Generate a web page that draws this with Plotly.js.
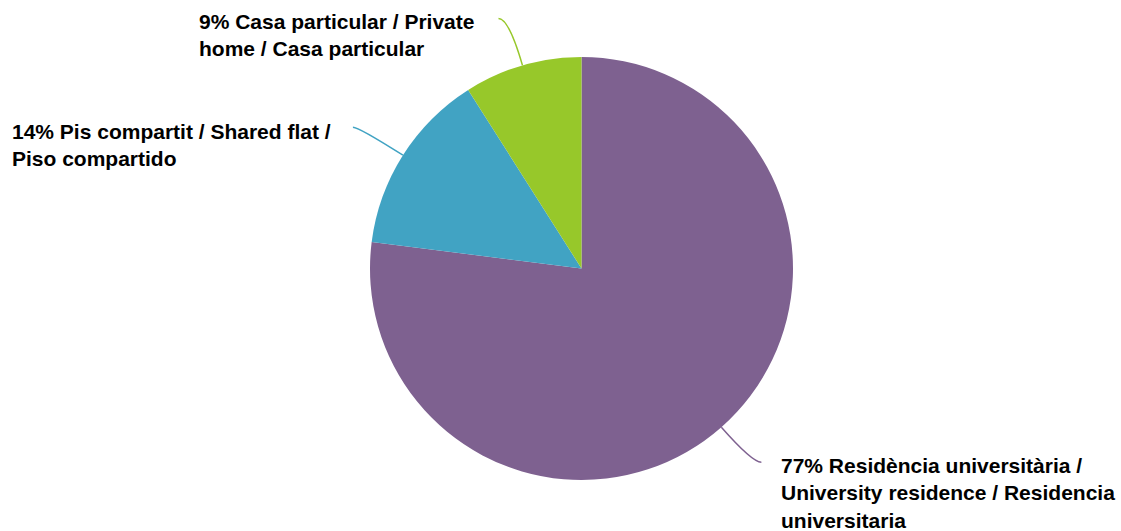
<!DOCTYPE html>
<html><head><meta charset="utf-8">
<script src="https://cdn.plot.ly/plotly-3.0.1.min.js"></script>
<style>html,body{margin:0;padding:0;background:#fff;}#chart{width:1121px;height:531px;}</style>
</head><body><div id="chart"></div>
<script>
const labels = ["Residència universitària / University residence / Residencia universitaria",
                "Pis compartit / Shared flat / Piso compartido",
                "Casa particular / Private home / Casa particular"];
const values = [77, 14, 9];
const labelText = ["77% Residència universitària /<br>University residence / Residencia<br>universitaria",
                   "14% Pis compartit / Shared flat /<br>Piso compartido",
                   "9% Casa particular / Private<br>home / Casa particular"];
const colors = ["#7E6190", "#41A3C3", "#97C82A"];

const W = 1121, H = 531;
const cx = 581.5, cy = 268.5, R = 211.5;
// leader-line end offsets (px) and label placement
const leadOff = [[40, 35], [-50, -28], [-24, -47]];
const labAnchor = [
  {dx: 18, dy: -10, xa: 'left', ya: 'top'},
  {dx: -20, dy: -9, xa: 'right', ya: 'top'},
  {dx: -22, dy: -10, xa: 'right', ya: 'top'}
];

const total = values.reduce((a, b) => a + b, 0);
let cum = 0;
const shapes = [], annotations = [];
const px = x => x / W, py = y => 1 - y / H;
values.forEach((v, i) => {
  const midFrac = (cum + v / 2) / total;
  cum += v;
  const ang = (90 - midFrac * 360) * Math.PI / 180;
  const dx = Math.cos(ang), dy = -Math.sin(ang);
  const sx = cx + R * dx, sy = cy + R * dy;
  const ex = sx + leadOff[i][0], ey = sy + leadOff[i][1];
  const t = (ey - sy) / dy;
  const qx = sx + t * dx, qy = ey;
  shapes.push({type: 'path', xref: 'paper', yref: 'paper',
    path: `M ${px(sx)},${py(sy)} Q ${px(qx)},${py(qy)} ${px(ex)},${py(ey)}`,
    line: {color: colors[i], width: 1.5}});
  const a = labAnchor[i];
  annotations.push({xref: 'paper', yref: 'paper', x: px(ex + a.dx), y: py(ey + a.dy),
    xanchor: a.xa, yanchor: a.ya, align: 'left', showarrow: false,
    text: '<b>' + labelText[i] + '</b>',
    font: {family: 'Liberation Sans, Arial, sans-serif', size: 21, color: '#000'}});
});

const data = [{
  type: 'pie', labels: labels, values: values, sort: false, direction: 'clockwise', rotation: 0,
  marker: {colors: colors, line: {width: 0}}, textinfo: 'none', hoverinfo: 'none',
  domain: {x: [(cx - R) / W, (cx + R) / W], y: [1 - (cy + R) / H, 1 - (cy - R) / H]}
}];
const layout = {width: W, height: H, margin: {l: 0, r: 0, t: 0, b: 0}, showlegend: false,
  paper_bgcolor: '#fff', shapes: shapes, annotations: annotations};
Plotly.newPlot('chart', data, layout, {displayModeBar: false, staticPlot: true});
</script></body></html>
